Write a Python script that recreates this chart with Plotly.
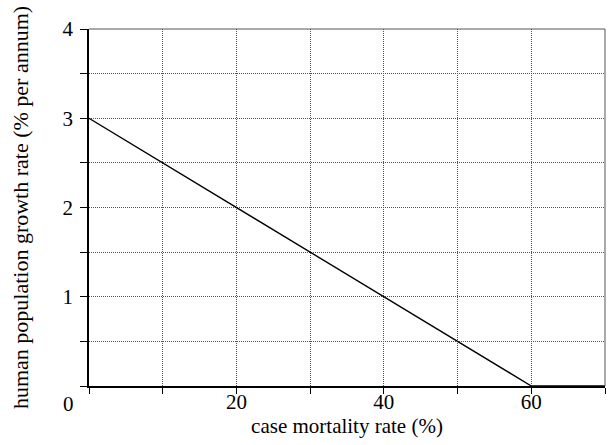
import plotly.graph_objects as go

# case mortality rate (%) vs human population growth rate (% per annum)
mortality = [0, 60, 70]
growth = [3, 0, 0]

x_ticks = [0, 10, 20, 30, 40, 50, 60, 70]
x_tick_text = ["", "", "20", "", "40", "", "60", ""]
y_ticks = [0, 0.5, 1, 1.5, 2, 2.5, 3, 3.5, 4]
y_tick_text = ["", "", "1", "", "2", "", "3", "", "4"]

serif = "Liberation Serif, Times New Roman, serif"

fig = go.Figure()
fig.add_trace(go.Scatter(
    x=mortality, y=growth, mode="lines",
    line=dict(color="black", width=1.4),
    showlegend=False, hoverinfo="skip",
))

fig.update_xaxes(
    range=[0, 70], tickmode="array", tickvals=x_ticks, ticktext=x_tick_text,
    ticks="outside", ticklen=6, tickcolor="black", tickwidth=1,
    ticklabelstandoff=-10,
    showgrid=True, gridcolor="#555555", gridwidth=1, griddash="1px,1px",
    showline=True, linecolor="black", linewidth=1.5,
    zeroline=False, automargin=False,
    tickfont=dict(family=serif, size=21, color="black"),
    title=dict(text="case mortality rate (%)", font=dict(family=serif, size=21, color="black"), standoff=4),
)
fig.update_yaxes(
    range=[0, 4], tickmode="array", tickvals=y_ticks, ticktext=y_tick_text,
    ticks="outside", ticklen=7, tickcolor="black", tickwidth=1,
    ticklabelstandoff=3,
    showgrid=True, gridcolor="#555555", gridwidth=1, griddash="1px,1px",
    showline=True, linecolor="black", linewidth=1.5,
    zeroline=False, automargin=False,
    tickfont=dict(family=serif, size=21, color="black"),
    title=dict(text="human population growth rate (% per annum)", font=dict(family=serif, size=22, color="black"), standoff=28),
)

# top and right frame edges
fig.add_shape(type="line", xref="paper", yref="paper", x0=0, x1=1, y0=1, y1=1,
              line=dict(color="#555555", width=1))
fig.add_shape(type="line", xref="paper", yref="paper", x0=1, x1=1, y0=0, y1=1,
              line=dict(color="#555555", width=1))

# shared origin label
fig.add_annotation(x=0, y=0, xref="x", yref="y", text="0", showarrow=False,
                   xanchor="center", yanchor="top", xshift=-21, yshift=-4,
                   font=dict(family=serif, size=21, color="black"))

fig.update_layout(
    width=609, height=445,
    margin=dict(l=89, r=4, t=29, b=59),
    plot_bgcolor="white", paper_bgcolor="white",
)

fig.write_html("out.html")
